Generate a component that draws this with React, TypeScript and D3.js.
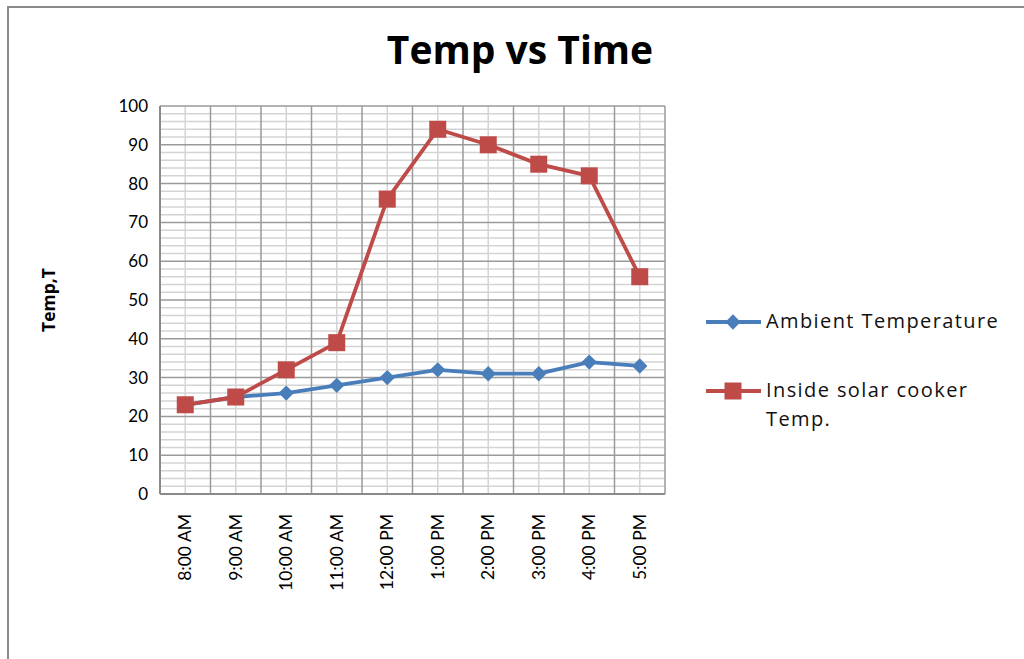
import React from "react";
import * as d3 from "d3";

const categories = ["8:00 AM", "9:00 AM", "10:00 AM", "11:00 AM", "12:00 PM", "1:00 PM", "2:00 PM", "3:00 PM", "4:00 PM", "5:00 PM"];
const ambient = [23, 25, 26, 28, 30, 32, 31, 31, 34, 33];
const inside = [23, 25, 32, 39, 76, 94, 90, 85, 82, 56];
const yTicks = [0, 10, 20, 30, 40, 50, 60, 70, 80, 90, 100];
const title = "Temp vs Time";
const yTitle = "Temp,T";
const legend1 = "Ambient Temperature";
const legend2a = "Inside solar cooker";
const legend2b = "Temp.";

const W = 1024, H = 659;
const L = 160, R = 665, T = 106, B = 494;
const BLUE = "#4A7EBB";
const RED = "#BE4B48";
const FONT = "Lato, 'Liberation Sans', sans-serif";
const FONT2 = "'Open Sans', 'Liberation Sans', sans-serif";

export default function App() {
  const x = d3.scaleBand<string>().domain(categories).range([L, R]).paddingInner(0).paddingOuter(0);
  const y = d3.scaleLinear().domain([0, 100]).range([B, T]);
  const cx = (c: string) => (x(c) as number) + x.bandwidth() / 2;
  const line = d3.line<number>().x((_, i) => cx(categories[i])).y(d => y(d)).curve(d3.curveLinear);
  const minorY = d3.range(0, 101, 2).filter(v => v % 10 !== 0);
  const diamond = d3.symbol().type(d3.symbolDiamond2).size(150)();

  return (
    <svg width={W} height={H} style={{ position: "absolute", left: 0, top: 0, background: "#fff" }}>
      <rect x={0} y={0} width={W} height={H} fill="#fff" />
      {/* outer frame (top & left visible) */}
      <line x1={7} y1={7} x2={W} y2={7} stroke="#8a8a8a" strokeWidth={2} />
      <line x1={8} y1={7} x2={8} y2={H} stroke="#8a8a8a" strokeWidth={2} />

      <text x={520} y={64} textAnchor="middle" fontFamily={FONT2} fontWeight="bold" fontSize={39} fill="#000">{title}</text>

      {/* minor horizontal grid */}
      {minorY.map(v => (
        <line key={"mh" + v} x1={L} x2={R} y1={y(v)} y2={y(v)} stroke="#d4d4d4" strokeWidth={1.5} />
      ))}
      {/* minor vertical grid at category centers */}
      {categories.map(c => (
        <line key={"mv" + c} x1={cx(c)} x2={cx(c)} y1={T} y2={B} stroke="#d4d4d4" strokeWidth={1.5} />
      ))}
      {/* major horizontal grid */}
      {yTicks.map(v => (
        <line key={"Mh" + v} x1={L} x2={R} y1={y(v)} y2={y(v)} stroke="#9a9a9a" strokeWidth={1.5} />
      ))}
      {/* major vertical grid at category boundaries */}
      {categories.map(c => (
        <line key={"Mv" + c} x1={x(c)} x2={x(c)} y1={T} y2={B} stroke="#9a9a9a" strokeWidth={1.5} />
      ))}
      <line x1={R} x2={R} y1={T} y2={B} stroke="#9a9a9a" strokeWidth={1.5} />
      <line x1={L} x2={L} y1={T} y2={B} stroke="#8a8a8a" strokeWidth={2} />
      <line x1={L} x2={R} y1={B} y2={B} stroke="#8a8a8a" strokeWidth={2} />

      {/* y tick labels */}
      {yTicks.map(v => (
        <text key={"yt" + v} x={148} y={y(v) + 6} textAnchor="end" fontFamily={FONT} fontSize={17} fill="#000">{v}</text>
      ))}
      {/* x tick labels */}
      {categories.map(c => (
        <text key={"xt" + c} transform={`translate(${cx(c) + 6},${514}) rotate(-90)`} textAnchor="end" fontFamily={FONT} fontSize={17.5} fill="#000">{c}</text>
      ))}

      <text transform={`translate(55,300) rotate(-90)`} textAnchor="middle" fontFamily={FONT2} fontWeight="bold" fontSize={17.5} fill="#000">{yTitle}</text>

      {/* series */}
      <path d={line(ambient) as string} fill="none" stroke={BLUE} strokeWidth={3.8} strokeLinejoin="round" />
      {ambient.map((v, i) => (
        <path key={"a" + i} d={diamond as string} transform={`translate(${cx(categories[i])},${y(v)})`} fill={BLUE} />
      ))}
      <path d={line(inside) as string} fill="none" stroke={RED} strokeWidth={3.8} strokeLinejoin="round" />
      {inside.map((v, i) => (
        <rect key={"s" + i} x={cx(categories[i]) - 8.5} y={y(v) - 8.5} width={17} height={17} fill={RED} />
      ))}

      {/* legend */}
      <line x1={706} x2={761} y1={322} y2={322} stroke={BLUE} strokeWidth={3.8} />
      <path d={diamond as string} transform={`translate(733,322)`} fill={BLUE} />
      <text x={766} y={328} fontFamily={FONT2} fontSize={20} letterSpacing={1.4} fill="#111">{legend1}</text>

      <line x1={706} x2={761} y1={391} y2={391} stroke={RED} strokeWidth={3.8} />
      <rect x={724.5} y={382.5} width={17} height={17} fill={RED} />
      <text x={766} y={397} fontFamily={FONT2} fontSize={20} letterSpacing={1.4} fill="#111">{legend2a}</text>
      <text x={766} y={426} fontFamily={FONT2} fontSize={20} letterSpacing={1.4} fill="#111">{legend2b}</text>
    </svg>
  );
}
